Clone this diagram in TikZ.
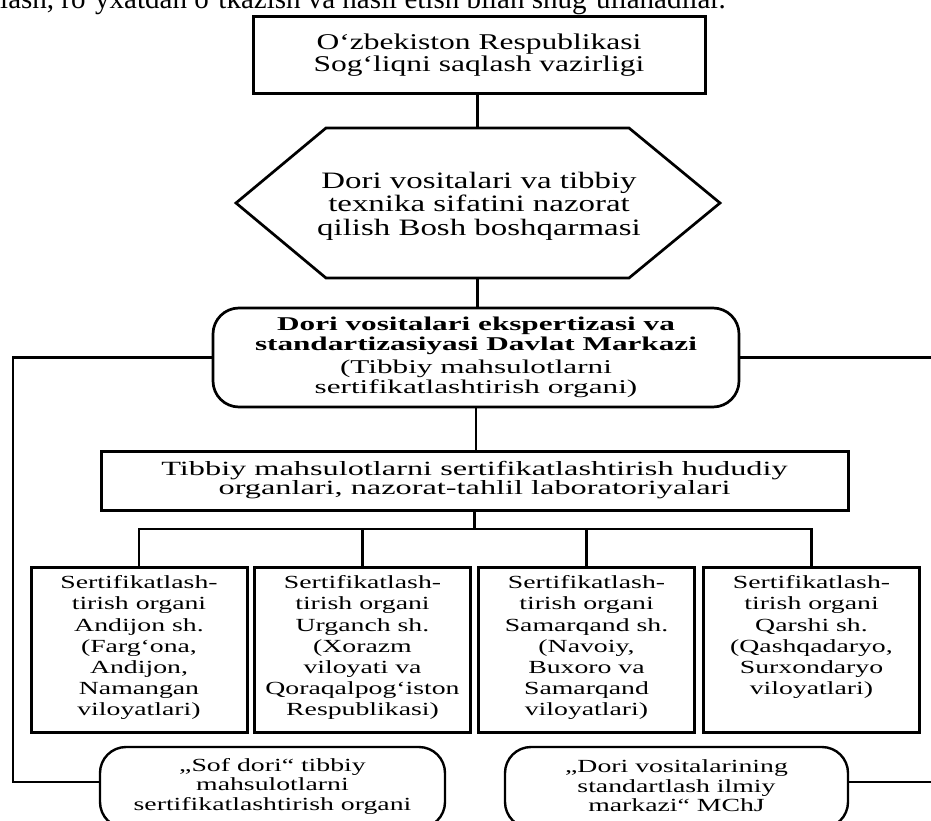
\documentclass[tikz,border=0pt]{standalone}
\usepackage{fontspec}
\setmainfont{Liberation Serif}
\newfontfamily\fS[FakeStretch=1.4]{Liberation Serif}
\newfontfamily\fT[FakeStretch=1.5]{Liberation Serif}
\newfontfamily\fU[FakeStretch=1.6]{Liberation Serif}
\begin{document}
\begin{tikzpicture}[x=1pt,y=-1pt,
  boxline/.style={draw=black, line width=3pt},
  conn/.style={draw=black, line width=2.5pt},
  sqbox/.style={boxline, rectangle, inner sep=0pt, align=center},
  rbox/.style={draw=black, line width=2.7pt, rectangle, rounded corners=26pt, inner sep=0pt, align=center},
  smallbox/.style={boxline, rectangle, inner sep=0pt, minimum width=216pt, minimum height=165pt},
  smalltext/.style={inner sep=0pt, align=center, font=\fT\fontsize{18.5}{21.2}\selectfont},
  bottext/.style={align=center, font=\fT\fontsize{18.5}{19.5}\selectfont}
]
\useasboundingbox (0,0) rectangle (931,821);
\clip (0,0) rectangle (931,821);
\fill[white] (0,0) rectangle (931,821);

% cut-off line of page text
\node[anchor=base west, inner sep=0pt, font=\fontsize{29}{29}\selectfont] (hdr) at (0,8.5)
  {lash, ro‘yxatdan o‘tkazish va nasil etish bilan shug‘ullanadilar.};

% top box
\node[sqbox, minimum width=452pt, minimum height=77pt, font=\fS\fontsize{22.5}{22}\selectfont] (top) at (479,55.5)
  {O‘zbekiston Respublikasi\\Sog‘liqni saqlash vazirligi};

% hexagon
\coordinate (hTL) at (326,128);
\coordinate (hTR) at (629,128);
\coordinate (hR) at (720,203);
\coordinate (hBR) at (629,278);
\coordinate (hBL) at (326,278);
\coordinate (hL) at (236,203);
\coordinate (hT) at (477.5,128);
\coordinate (hB) at (477.5,278);
\draw[boxline, line width=2.7pt, line join=miter] (hTL) -- (hTR) -- (hR) -- (hBR) -- (hBL) -- (hL) -- cycle;
\node[align=center, inner sep=0pt, font=\fS\fontsize{23.5}{23.5}\selectfont] (hex) at (479,206)
  {Dori vositalari va tibbiy\\texnika sifatini nazorat\\qilish Bosh boshqarmasi};

% main rounded box
\node[rbox, minimum width=526pt, minimum height=99pt, font=\fU\fontsize{19.5}{20.5}\selectfont] (main) at (476,357.5)
  {\textbf{Dori vositalari ekspertizasi va}\\[-0.5pt]\textbf{standartizasiyasi Davlat Markazi}\\[2pt](Tibbiy mahsulotlarni\\sertifikatlashtirish organi)};

% regional box
\node[sqbox, minimum width=747pt, minimum height=59pt, font=\fU\fontsize{20.2}{19}\selectfont] (hud) at (474.5,480.5)
  {Tibbiy mahsulotlarni sertifikatlashtirish hududiy\\organlari, nazorat-tahlil laboratoriyalari};

% small boxes
\node[smallbox] (s1) at (139,649.5) {};
\node[smallbox] (s2) at (362.5,649.5) {};
\node[smallbox] (s3) at (586.5,649.5) {};
\node[smallbox] (s4) at (811.5,649.5) {};
\node[smalltext, anchor=north] (t1) at ([yshift=-10pt]s1.north)
  {Sertifikatlash-\\tirish organi\\Andijon sh.\\(Farg‘ona,\\Andijon,\\Namangan\\viloyatlari)};
\node[smalltext, anchor=north] (t2) at ([yshift=-10pt]s2.north)
  {Sertifikatlash-\\tirish organi\\Urganch sh.\\(Xorazm\\viloyati va\\Qoraqalpog‘iston\\Respublikasi)};
\node[smalltext, anchor=north] (t3) at ([yshift=-10pt]s3.north)
  {Sertifikatlash-\\tirish organi\\Samarqand sh.\\(Navoiy,\\Buxoro va\\Samarqand\\viloyatlari)};
\node[smalltext, anchor=north] (t4) at ([yshift=-10pt]s4.north)
  {Sertifikatlash-\\tirish organi\\Qarshi sh.\\(Qashqadaryo,\\Surxondaryo\\viloyatlari)};

% bottom rounded boxes
\node[rbox, line width=2.4pt, minimum width=345pt, minimum height=81pt] (sof) at (272.5,787.5) {};
\node[bottext] (sofT) at (272.5,786) {„Sof dori“ tibbiy\\mahsulotlarni\\sertifikatlashtirish organi};
\node[rbox, line width=2.4pt, minimum width=343pt, minimum height=81pt] (md) at (676.5,787.5) {};
\node[bottext] (mdT) at (676.5,786) {„Dori vositalarining\\standartlash ilmiy\\markazi“ MChJ};

% connectors
\coordinate (busY) at (0,529);
\coordinate (cL) at (13,782);
\coordinate (eR) at (931,0);
\draw[conn] (hT) -- (hT |- top.south);
\draw[conn] (hB) -- (hB |- main.north);
\draw[conn] (main.south) -- (main.south |- hud.north);
\draw[conn] (hud.south) -- (hud.south |- busY);
\draw[conn, line cap=rect] (s1.north |- busY) -- (s4.north |- busY);
\foreach \n in {s1,s2,s3,s4} {\draw[conn] (\n.north |- busY) -- (\n.north);}
\draw[conn, line join=miter] (main.west) -| (cL) -- (cL -| sof.west);
\draw[conn] (main.east) -- (main.east -| eR);
\draw[conn] (md.east |- cL) -- (cL -| eR);
\end{tikzpicture}
\end{document}
